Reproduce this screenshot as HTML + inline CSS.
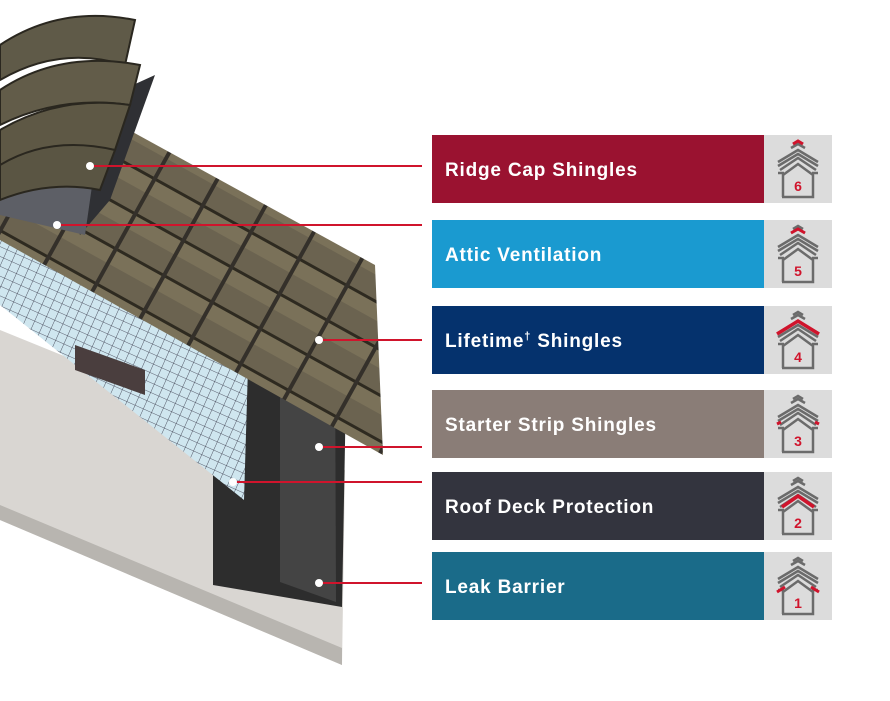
<!DOCTYPE html>
<html><head><meta charset="utf-8"><style>
body{margin:0;width:890px;height:701px;background:#fff;position:relative;overflow:hidden;font-family:"Liberation Sans",sans-serif}
.p{position:absolute;left:432px;width:332px;height:68px;color:#fff;font-size:19px;font-weight:bold;line-height:71px;padding-left:13px;box-sizing:border-box;letter-spacing:0.8px}
.ic{position:absolute;left:764px;width:68px;height:68px;background:#dcdcdc}
.ic text{font-family:"Liberation Sans",sans-serif}
</style></head><body>
<svg width="0" height="0" style="position:absolute"><defs><g id="h" fill="none" stroke="#6b6b6b" stroke-width="2.5"><polyline points="29,9 34,6 39,9"/><polyline points="27,13 34,9 41,13"/><polyline points="14,27 34,15 54,27"/><polyline points="14,31 34,19 54,31"/><polyline points="16,35 34,23 52,35"/><polyline points="14,38 20,38"/><polyline points="48,38 54,38"/><polyline points="19,62 19,40 34,29 49,40 49,62 18,62"/></g></defs></svg>
<svg width="890" height="701" style="position:absolute;left:0;top:0">
<defs>
<pattern id="sh" width="55" height="40" patternUnits="userSpaceOnUse" patternTransform="rotate(29)">
<rect width="55" height="40" fill="#6b6350"/>
<rect width="55" height="3" fill="#2e2a20"/>
<rect x="0" y="0" width="4" height="40" fill="#34302a"/>
<rect x="4" y="3" width="51" height="15" fill="#7a7159"/>
</pattern>
<pattern id="gr" width="9" height="9" patternUnits="userSpaceOnUse" patternTransform="rotate(24)">
<rect width="9" height="9" fill="#cfe6ef"/>
<path d="M0 0H9M0 0V9" stroke="#334" stroke-width="0.8"/>
</pattern>
</defs>
<polygon points="0,330 345,470 342,665 0,520" fill="#d9d6d2"/>
<polygon points="0,505 342,648 342,665 0,520" fill="#b8b5b0"/>
<polygon points="240,300 347,335 342,607 213,585 213,420" fill="#2d2d2d"/>
<polygon points="280,330 335,345 336,602 280,582" fill="#444"/>
<polygon points="0,240 250,300 244,500 0,305" fill="url(#gr)"/>
<polygon points="75,345 145,370 145,395 75,370" fill="#4a3e3e"/>
<polygon points="0,150 120,125 375,265 383,455 0,240" fill="url(#sh)"/>
<polygon points="100,100 155,75 110,200 80,235 70,200" fill="#2f3034"/>
<polygon points="0,150 95,165 85,235 0,215" fill="#5d5f66"/>
<path d="M0 45 Q60 5 135 20 L125 65 Q60 45 0 80Z" fill="#5f5a48" stroke="#2a271f" stroke-width="2"/>
<path d="M0 90 Q60 50 140 65 L130 105 Q60 95 0 125Z" fill="#625c49" stroke="#2a271f" stroke-width="2"/>
<path d="M0 130 Q60 95 130 105 L115 150 Q60 140 0 165Z" fill="#5e5845" stroke="#2a271f" stroke-width="2"/>
<path d="M0 165 Q50 135 115 150 L100 190 Q50 180 0 200Z" fill="#5a5543" stroke="#2a271f" stroke-width="2"/>
<g stroke="#d0142c" stroke-width="2">
<line x1="90" y1="166" x2="422" y2="166"/>
<line x1="57" y1="225" x2="422" y2="225"/>
<line x1="319" y1="340" x2="422" y2="340"/>
<line x1="319" y1="447" x2="422" y2="447"/>
<line x1="233" y1="482" x2="422" y2="482"/>
<line x1="319" y1="583" x2="422" y2="583"/>
</g>
<g fill="#fff"><circle cx="90" cy="166" r="4"/><circle cx="57" cy="225" r="4"/><circle cx="319" cy="340" r="4"/><circle cx="319" cy="447" r="4"/><circle cx="233" cy="482" r="4"/><circle cx="319" cy="583" r="4"/></g>
</svg>
<div class="p" style="top:135px;background:#9a1230">Ridge Cap Shingles</div>
<div class="p" style="top:220px;background:#1a9ad0">Attic Ventilation</div>
<div class="p" style="top:306px;background:#05326d">Lifetime<sup style="font-size:11px;line-height:0">†</sup> Shingles</div>
<div class="p" style="top:390px;background:#8a7d77">Starter Strip Shingles</div>
<div class="p" style="top:472px;background:#33343e">Roof Deck Protection</div>
<div class="p" style="top:552px;background:#1a6b89">Leak Barrier</div>
<div class="ic" style="top:135px"><svg width="68" height="68"><use href="#h"/><polyline points="29,9 34,6 39,9" stroke="#d0142c" stroke-width="3" fill="none"/><text x="34" y="56" font-size="14" font-weight="bold" fill="#d0142c" text-anchor="middle">6</text></svg></div>
<div class="ic" style="top:220px"><svg width="68" height="68"><use href="#h"/><polyline points="27,13 34,9 41,13" stroke="#d0142c" stroke-width="3" fill="none"/><text x="34" y="56" font-size="14" font-weight="bold" fill="#d0142c" text-anchor="middle">5</text></svg></div>
<div class="ic" style="top:306px"><svg width="68" height="68"><use href="#h"/><polyline points="13,28 34,15 55,28" stroke="#d0142c" stroke-width="3.5" fill="none"/><text x="34" y="56" font-size="14" font-weight="bold" fill="#d0142c" text-anchor="middle">4</text></svg></div>
<div class="ic" style="top:390px"><svg width="68" height="68"><use href="#h"/><line x1="13" y1="34" x2="17" y2="32" stroke="#d0142c" stroke-width="3"/><line x1="55" y1="34" x2="51" y2="32" stroke="#d0142c" stroke-width="3"/><text x="34" y="56" font-size="14" font-weight="bold" fill="#d0142c" text-anchor="middle">3</text></svg></div>
<div class="ic" style="top:472px"><svg width="68" height="68"><use href="#h"/><polyline points="18,35 34,24 50,35" stroke="#d0142c" stroke-width="3.5" fill="none"/><text x="34" y="56" font-size="14" font-weight="bold" fill="#d0142c" text-anchor="middle">2</text></svg></div>
<div class="ic" style="top:552px"><svg width="68" height="68"><use href="#h"/><line x1="13" y1="40" x2="21" y2="35" stroke="#d0142c" stroke-width="3"/><line x1="55" y1="40" x2="47" y2="35" stroke="#d0142c" stroke-width="3"/><text x="34" y="56" font-size="14" font-weight="bold" fill="#d0142c" text-anchor="middle">1</text></svg></div>
</body></html>
